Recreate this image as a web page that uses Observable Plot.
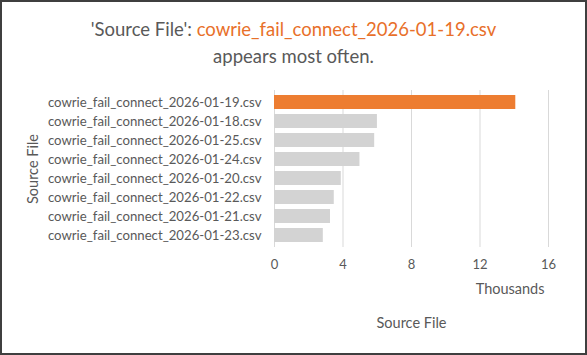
<!DOCTYPE html>
<html>
<head>
<meta charset="utf-8">
<script src="https://cdn.jsdelivr.net/npm/d3@7"></script>
<script src="https://cdn.jsdelivr.net/npm/@observablehq/plot@0.6"></script>
<style>
  html, body { margin: 0; padding: 0; background: #fff; }
  #wrap { position: relative; width: 587px; height: 355px; overflow: hidden; font-family: Lato, "Open Sans", sans-serif; }
  #frame { position: absolute; left: 0; top: 0; width: 587px; height: 355px; box-sizing: border-box; border: 2px solid #3f3f3f; pointer-events: none; }
  #title { height: 75px; box-sizing: border-box; padding-top: 16px; text-align: center; font-size: 18.5px; line-height: 27px; color: #595959; }
  #title .hl { color: #E8702A; }
  svg { display: block; }
</style>
</head>
<body>
<div id="wrap">
  <div id="title">'Source File': <span class="hl" id="topname"></span><br>appears most often.</div>
  <div id="chart"></div>
  <div id="frame"></div>
</div>
<script>
const files = [
  "cowrie_fail_connect_2026-01-19.csv",
  "cowrie_fail_connect_2026-01-18.csv",
  "cowrie_fail_connect_2026-01-25.csv",
  "cowrie_fail_connect_2026-01-24.csv",
  "cowrie_fail_connect_2026-01-20.csv",
  "cowrie_fail_connect_2026-01-22.csv",
  "cowrie_fail_connect_2026-01-21.csv",
  "cowrie_fail_connect_2026-01-23.csv"
];
const counts = [14090, 6010, 5850, 4990, 3900, 3490, 3270, 2850];
const xTicks = [0, 4000, 8000, 12000, 16000];
const xUnitLabel = "Thousands";
const axisTitle = "Source File";

const data = files.map((f, i) => ({file: f, count: counts[i]}));
const topFile = files[d3.maxIndex(counts)];
document.getElementById("topname").textContent = topFile;

const textColor = "#595959";
const chart = Plot.plot({
  width: 587,
  height: 280,
  marginTop: 15,
  marginBottom: 108,
  marginLeft: 274,
  marginRight: 39,
  style: {fontFamily: "Lato, 'Open Sans', sans-serif", fontSize: "13px", color: textColor, background: "transparent"},
  x: {domain: [0, 16000], ticks: xTicks, label: null},
  y: {domain: files, label: null, paddingInner: 0.24, paddingOuter: 0.12},
  marks: [
    Plot.gridX(xTicks, {stroke: "#d9d9d9", strokeOpacity: 1, strokeWidth: 1}),
    Plot.barX(data, {y: "file", x: "count", fill: d => d.file === topFile ? "#ED7D31" : "#D3D3D3"}),
    Plot.axisX({ticks: xTicks, tickSize: 0, tickPadding: 12, tickFormat: d => d / 1000, label: null, fontSize: 13}),
    Plot.axisY({tickSize: 0, tickPadding: 13, label: null, fontSize: 13.2}),
    Plot.text([xUnitLabel], {frameAnchor: "bottom-right", textAnchor: "end", lineAnchor: "middle", dx: -4, dy: 42, fill: textColor, fontSize: 14.5}),
    Plot.text([axisTitle], {frameAnchor: "bottom", lineAnchor: "middle", dy: 76, fill: textColor, fontSize: 14.5}),
    Plot.text([axisTitle], {frameAnchor: "left", textAnchor: "middle", lineAnchor: "middle", rotate: -90, dx: -241, fill: textColor, fontSize: 14.5})
  ]
});
document.getElementById("chart").appendChild(chart);
</script>
</body>
</html>
